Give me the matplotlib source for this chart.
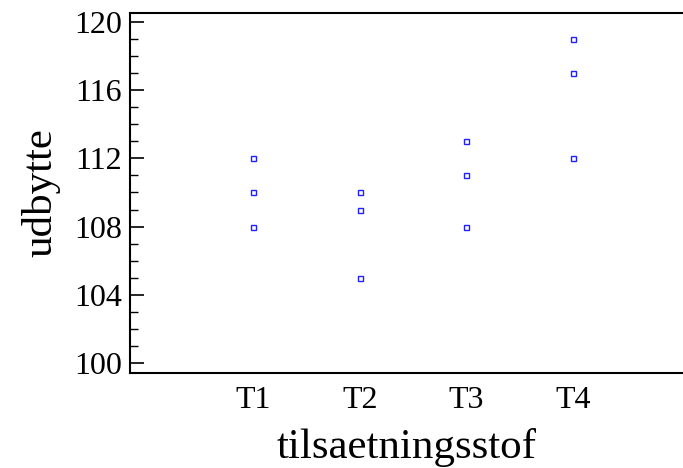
import matplotlib
matplotlib.use('Agg')
import matplotlib.pyplot as plt
from matplotlib.ticker import MultipleLocator

plt.rcParams['font.family'] = ['Liberation Serif', 'DejaVu Serif']

groups = ['T1', 'T2', 'T3', 'T4']
udbytte = {
    'T1': [112, 110, 108],
    'T2': [110, 109, 105],
    'T3': [113, 111, 108],
    'T4': [119, 117, 112],
}

fig = plt.figure(figsize=(6.83, 4.68), dpi=100)
ax = fig.add_axes([130/683, 95/468, 553/683, 360/468])

for i, g in enumerate(groups):
    ys = udbytte[g]
    ax.plot([i + 1] * len(ys), ys, 's', ms=3.6, mfc='white', mec='#2020ff', mew=1.0)

ax.set_xlim(-0.153, 5.03)
ax.set_ylim(99.41, 120.53)
ax.set_xticks(range(1, len(groups) + 1))
ax.set_xticklabels(groups)
ax.yaxis.set_major_locator(MultipleLocator(4))
ax.yaxis.set_minor_locator(MultipleLocator(1))
ax.tick_params(axis='y', which='major', direction='in', length=10, width=1.2, labelsize=23, pad=6)
ax.tick_params(axis='y', which='minor', direction='in', length=6, width=1.0)
ax.tick_params(axis='x', length=0, labelsize=23, pad=9)
ax.spines['right'].set_visible(False)
for s in ['left', 'bottom', 'top']:
    ax.spines[s].set_linewidth(1.5)

ax.set_xlabel('tilsaetningsstof', fontsize=31, labelpad=10)
ax.set_ylabel('udbytte', fontsize=31, labelpad=10)

fig.savefig('out.png', dpi=100)
